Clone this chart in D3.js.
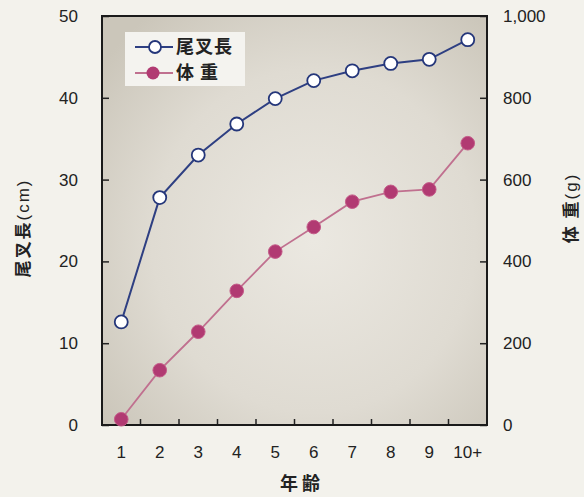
<!DOCTYPE html>
<html><head><meta charset="utf-8">
<script src="https://cdn.jsdelivr.net/npm/d3@7"></script>
<style>
html,body{margin:0;padding:0;background:#f3f2ec;}
svg{display:block;}
text{font-family:"Liberation Sans","Noto Sans CJK JP",sans-serif;fill:#222;}
.cjk{font-family:"Noto Sans CJK JP",sans-serif;font-weight:700;}
.reg{font-family:"Liberation Sans",sans-serif;font-weight:400;}
</style></head>
<body>
<script>
const ages = ["1","2","3","4","5","6","7","8","9","10+"];
const forkLength = [12.6, 27.8, 33.0, 36.8, 39.9, 42.1, 43.3, 44.2, 44.7, 47.1];
const bodyWeight = [14, 134, 228, 328, 424, 484, 546, 570, 576, 689];
const leftTicks = [0, 10, 20, 30, 40, 50];
const rightTicks = [0, 200, 400, 600, 800, 1000];

const W = 584, H = 497;
const m = {l:102, r:487, t:16, b:425};
const svg = d3.select("body").append("svg").attr("width", W).attr("height", H);

const defs = svg.append("defs");
const rg = defs.append("radialGradient").attr("id","bg").attr("cx","55%").attr("cy","55%").attr("r","70%");
rg.append("stop").attr("offset","0%").attr("stop-color","#ebe8e1");
rg.append("stop").attr("offset","60%").attr("stop-color","#dfdbd2");
rg.append("stop").attr("offset","100%").attr("stop-color","#cbc6ba");

const x = d3.scaleBand().domain(ages).range([m.l, m.r]);
const yL = d3.scaleLinear().domain([0, 50]).range([m.b, m.t]);
const yR = d3.scaleLinear().domain([0, 1000]).range([m.b, m.t]);
const cx = d => x(d) + x.bandwidth()/2;

svg.append("rect").attr("x", m.l).attr("y", m.t).attr("width", m.r-m.l).attr("height", m.b-m.t)
  .attr("fill","url(#bg)");

// Axes
const axL = svg.append("g").attr("transform",`translate(${m.l},0)`)
  .call(d3.axisLeft(yL).tickValues(leftTicks).tickSize(-7).tickPadding(22).tickFormat(d3.format("d")));
const axR = svg.append("g").attr("transform",`translate(${m.r},0)`)
  .call(d3.axisRight(yR).tickValues(rightTicks).tickSize(-7).tickPadding(22).tickFormat(d3.format(",")));
const xTickPos = ages.slice(0, -1);
const axB = svg.append("g").attr("transform",`translate(0,${m.b})`)
  .call(d3.axisBottom(x).tickSize(0).tickPadding(18));
svg.append("g").selectAll("line").data(xTickPos).join("line")
  .attr("x1", d => x(d)+x.bandwidth()).attr("x2", d => x(d)+x.bandwidth())
  .attr("y1", m.b).attr("y2", m.b-6).attr("stroke","#222").attr("stroke-width",1.5);

[axL, axR, axB].forEach(a => {
  a.select(".domain").remove();
  a.selectAll("line").attr("stroke","#222").attr("stroke-width",1.5);
  a.selectAll("text").style("font-size","17px").attr("fill","#222");
});
axR.selectAll("text").attr("x", 16);
axL.selectAll("text").attr("x", -24);
axB.selectAll("text").attr("dy","0.9em");

svg.append("rect").attr("x", m.l).attr("y", m.t).attr("width", m.r-m.l).attr("height", m.b-m.t)
  .attr("fill","none").attr("stroke","#1a1a1a").attr("stroke-width",2);

// Lines
const lineL = d3.line().x((d,i)=>cx(ages[i])).y(d=>yL(d));
const lineR = d3.line().x((d,i)=>cx(ages[i])).y(d=>yR(d));
svg.append("path").datum(bodyWeight).attr("d", lineR).attr("fill","none").attr("stroke","#c0708f").attr("stroke-width",1.8);
svg.append("path").datum(forkLength).attr("d", lineL).attr("fill","none").attr("stroke","#2e3f82").attr("stroke-width",2);

svg.append("g").selectAll("circle").data(bodyWeight).join("circle")
  .attr("cx",(d,i)=>cx(ages[i])).attr("cy",d=>yR(d)).attr("r",6.8)
  .attr("fill","#b13a72").attr("stroke","#c45a88").attr("stroke-width",1);
svg.append("g").selectAll("circle").data(forkLength).join("circle")
  .attr("cx",(d,i)=>cx(ages[i])).attr("cy",d=>yL(d)).attr("r",6.5)
  .attr("fill","#ffffff").attr("stroke","#24367a").attr("stroke-width",1.8);

// Legend
const lg = svg.append("g");
lg.append("rect").attr("x",125).attr("y",32).attr("width",120).attr("height",54).attr("fill","#f4f3ef");
lg.append("line").attr("x1",135).attr("x2",173).attr("y1",47).attr("y2",47).attr("stroke","#2e3f82").attr("stroke-width",2);
lg.append("circle").attr("cx",155).attr("cy",47).attr("r",6).attr("fill","#fff").attr("stroke","#24367a").attr("stroke-width",1.8);
lg.append("line").attr("x1",135).attr("x2",173).attr("y1",73).attr("y2",73).attr("stroke","#c0708f").attr("stroke-width",1.8);
lg.append("circle").attr("cx",153).attr("cy",73).attr("r",6.5).attr("fill","#b13a72");
lg.append("text").attr("class","cjk").attr("x",176).attr("y",47).attr("dy","0.36em")
  .style("font-size","18px").style("letter-spacing","1px").text("尾叉長");
lg.append("text").attr("class","cjk").attr("x",176).attr("y",73).attr("dy","0.36em")
  .style("font-size","18px").style("letter-spacing","1px").text("体 重");

// Axis titles
const tl = svg.append("text").attr("class","cjk").attr("transform","translate(23,228) rotate(-90)")
  .attr("text-anchor","middle").attr("dy","0.36em").style("font-size","17px").style("letter-spacing","2px");
tl.append("tspan").text("尾叉長");
tl.append("tspan").attr("class","reg").text("(cm)");
const tr = svg.append("text").attr("class","cjk").attr("transform","translate(571,208) rotate(-90)")
  .attr("text-anchor","middle").attr("dy","0.36em").style("font-size","17px").style("letter-spacing","2px");
tr.append("tspan").text("体 重");
tr.append("tspan").attr("class","reg").text("(g)");
svg.append("text").attr("class","cjk").attr("x",300).attr("y",484).attr("text-anchor","middle")
  .attr("dy","0.36em").style("font-size","18px").text("年 齢");
</script>
</body></html>
